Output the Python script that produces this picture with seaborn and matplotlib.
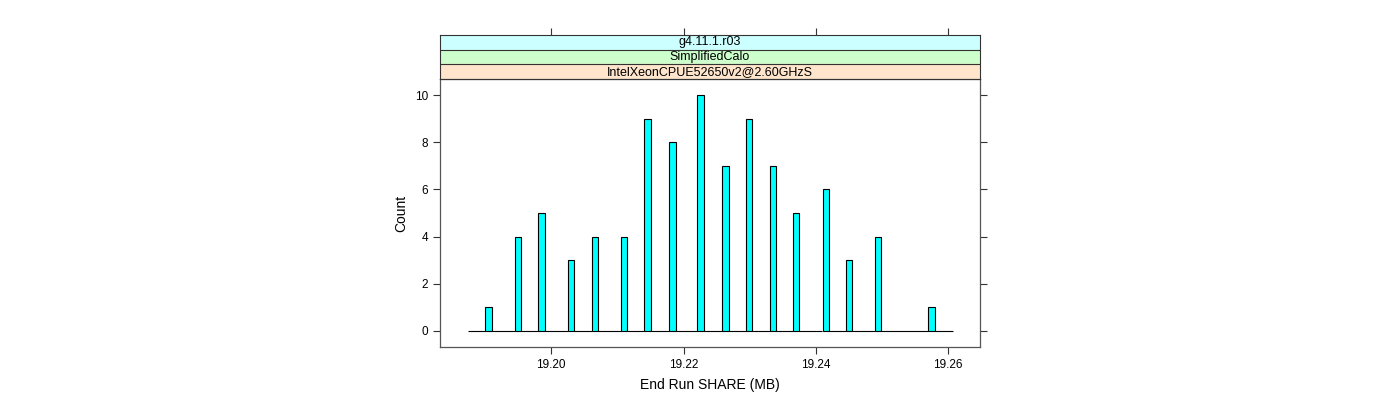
import matplotlib
matplotlib.use("Agg")
import matplotlib.pyplot as plt
import seaborn as sns

# bar centres (MB) and counts
share_mb = [19.1905, 19.1950, 19.1985, 19.2030, 19.2066, 19.2110, 19.2146,
            19.2183, 19.2226, 19.2263, 19.2299, 19.2335, 19.2370, 19.2415,
            19.2450, 19.2494, 19.2575]
counts = [1, 4, 5, 3, 4, 4, 9, 8, 10, 7, 9, 7, 5, 6, 3, 4, 1]
hist_range = (19.1875, 19.2607)
bar_w = 0.001

strip_labels = ["g4.11.1.r03", "SimplifiedCalo", "IntelXeonCPUE52650v2@2.60GHzS"]
strip_colors = ["#ccffff", "#ccffcc", "#ffe5cc"]
x_ticks = [19.20, 19.22, 19.24, 19.26]
y_ticks = [0, 2, 4, 6, 8, 10]

sns.set_style("white")
plt.rcParams['font.family'] = ['Liberation Sans', 'DejaVu Sans']
plt.rcParams['text.color'] = 'black'
plt.rcParams['axes.labelcolor'] = 'black'
plt.rcParams['xtick.color'] = 'black'
plt.rcParams['ytick.color'] = 'black'

fig = plt.figure(figsize=(14, 4), dpi=100)
W, H = 1400, 400
ax = fig.add_axes([440 / W, 1 - 347 / H, 540 / W, (347 - 79) / H])
sax = fig.add_axes([440 / W, 1 - 79 / H, 540 / W, (79 - 35) / H], sharex=ax)

# bin edges: a narrow bin around each centre, gaps become empty bins (baseline)
edges = [hist_range[0]]
for c in share_mb:
    edges += [c - bar_w / 2, c + bar_w / 2]
edges.append(hist_range[1])

sns.histplot(x=share_mb, weights=counts, bins=edges, ax=ax,
             color="#00ffff", edgecolor="black", linewidth=0.8, alpha=1)

ax.set_xlim(19.1832, 19.2648)
ax.set_ylim(-0.68, 10.68)
ax.set_xticks(x_ticks)
ax.set_xticklabels([f"{t:.2f}" for t in x_ticks])
ax.set_yticks(y_ticks)
ax.tick_params(axis="both", direction="out", length=5, width=0.8,
               color="#333333", labelsize=8.5, left=True, bottom=True,
               right=True, labelright=False)
ax.set_xlabel("End Run SHARE (MB)", fontsize=10, labelpad=5)
ax.set_ylabel("Count", fontsize=10, labelpad=5)
for s in ax.spines.values():
    s.set_visible(True)
    s.set_color("#555555")
    s.set_linewidth(0.9)

# strips
sax.set_ylim(0, 3)
for i, (lab, col) in enumerate(zip(strip_labels, strip_colors)):
    y0 = 2 - i
    sax.axhspan(y0, y0 + 1, color=col, zorder=0)
    sax.axhline(y0, color="#333333", linewidth=0.8)
    sax.text(0.5, (y0 + 0.5) / 3, lab, transform=sax.transAxes,
             ha="center", va="center", fontsize=9)
sax.set_yticks([])
sax.tick_params(axis="x", direction="out", length=5, width=0.8,
                color="#333333", bottom=False, top=True,
                labelbottom=False, labeltop=False)
for s in sax.spines.values():
    s.set_visible(True)
    s.set_color("#333333")
    s.set_linewidth(0.8)

fig.savefig("out.png", dpi=100)
